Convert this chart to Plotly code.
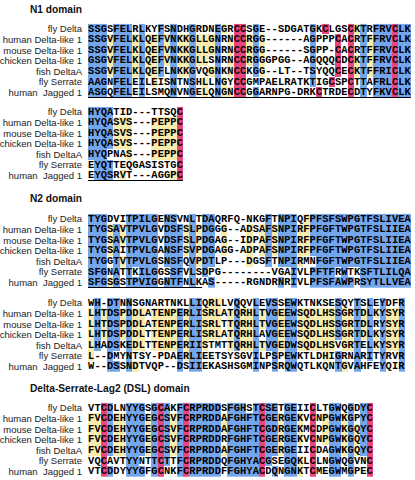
import plotly.graph_objects as go
from collections import Counter

# ---------------- data ----------------
species = ["fly Delta", "human Delta-like 1", "mouse Delta-like 1", "chicken Delta-like 1",
           "fish DeltaA", "fly Serrate", "human\u00a0 Jagged 1"]

n1_part1 = [
    "SSGSFELRLKYFSNDHGRDNEGRCCSGE--SDGATGKCLGSCKTRFRVCLK",
    "SSGVFELKLQEFVNKKGLLGNRNCCRGG------AGPPPCACRTFFRVCLK",
    "SSGVFELKLQEFVNKKGLLGNRNCCRGG------SGPP-CACRTFFRVCLK",
    "GSGVFELKLQEFVNKKGLLSNRNCCRGGGPGG--AGQQQCDCKTFFRVCLK",
    "SSGVFELKLQEFLNKKGVQGNKNCCKGG--LT--TSYQQCECKTFFRICLK",
    "AAGNFELEILEISNTNSHLLNGYCCGMPAELRATKTIGCSPCTTAFRLCLK",
    "ASGQFELEILSMQNVNGELQNGNCCGGARNPG-DRKCTRDECDTYFKVCLK",
]
n1_part2 = [
    "HYQATID---TTSQC",
    "HYQASVS---PEPPC",
    "HYQASVS---PEPPC",
    "HYQASVS---PEPPC",
    "HYQPNAS---PEPPC",
    "EYQTTEQGASISTGC",
    "EYQSRVT---AGGPC",
]
n2_part1 = [
    "TYGDVITPILGENSVNLTDAQRFQ-NKGFTNPIQFPFSFSWPGTFSLIVEA",
    "TYGSAVTPVLGVDSFSLPDGGG--ADSAFSNPIRFPFGFTWPGTFSLIIEA",
    "TYGSAVTPVLGVDSFSLPDGAG--IDPAFSNPIRFPFGFTWPGTFSLIIEA",
    "TYGSAITPVLGANSFSVPDGAGG-ADPAFSNPIRFPFGFTWPGTFSLIIEA",
    "TYGGTVTPVLGSNSFQVPDTLP---DGSFTNPIRMNFGFTWPGTFSLIIEA",
    "SFGNATTKILGGSSFVLSDPG--------VGAIVLPFTFRWTKSFTLILQA",
    "SFGSGSTPVIGGNTFNLKAS-----RGNDRNRIVLPFSFAWPRSYTLLVEA",
]
n2_part2 = [
    "WH-DTNNSGNARTNKLLIQRLLVQQVLEVSSEWKTNKSESQYTSLEYDFR",
    "LHTDSPDDLATENPERLISRLATQRHLTVGEEWSQDLHSSGRTDLKYSYR",
    "LHTDSPDDLATENPERLISRLTTQRHLTVGEEWSQDLHSSGRTDLRYSYR",
    "LHTDSPDDLTTENPERLISRLATQRHLAVGEEWSQDLHSSGRTDLKYSYR",
    "LHADSKEDLTTENPERIISTMTTQRHLTVGEDWSQDLHSVGRTELKYSYR",
    "L--DMYNTSY-PDAERLIEETSYSGVILPSPEWKTLDHIGRNARITYRVR",
    "W--DSSNDTVQP--DSIIEKASHSGMINPSRQWQTLKQNTGVAHFEYQIR",
]
dsl_part = [
    "VTCDLNYYGSGCAKFCRPRDDSFGHSTCSETGEIICLTGWQGDYC",
    "FVCDEHYYGEGCSVFCRPRDDAFGHFTCGERGEKVCNPGWKGPYC",
    "FVCDEHYYGEGCSVFCRPRDDAFGHFTCGDRGEKMCDPGWKGQYC",
    "FVCDEHYYGEGCSVFCRPRDDRFGHFTCGERGEKVCNPGWKGQYC",
    "FVCDEHYYGEGCSVFCRPRDDAFGHFTCGERGEIICDAGWKGQYC",
    "VQCAVTYYNTTCTTFCRPRDDQFGHYACGSEGQKLCLNGWQGVNC",
    "VTCDDYYYGFGCNKFCRPRDDFFGHYACDQNGNKTCMEGWMGPEC",
]

block_titles = ["N1 domain", None, "N2 domain", None, "Delta-Serrate-Lag2 (DSL) domain"]
blocks = [n1_part1, n1_part2, n2_part1, n2_part2, dsl_part]

# underlined stretches: (block index, row index, first column, last column)
underlines = [(0, 6, 0, 50), (1, 6, 0, 14), (2, 6, 0, 17)]

# restriction-site markers: (block index, column, label)
sites = [(2, 50, "Stu"), (4, 14.5, "Nae")]

# ---------------- style ----------------
W, H = 415, 480
CW = 6.33          # px per residue column
RH = 10.6          # px per row
X0 = 88            # left edge of sequence area (px)
first_row_px = [29, 112, 219, 303, 408]
title_px = [9, None, 198, None, 388]

BLUE = "#74a6ee"
YELLOW = "#f7ecae"
PINK = "#e9457f"

groups = ["AGST", "DENQ", "KRH", "ILVM", "FYW", "C", "P"]


def grp(a):
    for g in groups:
        if a in g:
            return g
    return a


def shade(seqs):
    nrow, ncol = len(seqs), len(seqs[0])
    z = [[0] * ncol for _ in range(nrow)]
    for c in range(ncol):
        col = [s[c] for s in seqs]
        res = [a for a in col if a != "-"]
        if not res:
            continue
        cnt = Counter(res)
        cons, nid = cnt.most_common(1)[0]
        g = grp(cons)
        ngrp = sum(1 for a in res if a in g)
        for r, a in enumerate(col):
            if a == "-":
                continue
            if a == "C":
                z[r][c] = 3
            elif a == cons and nid >= 6:
                z[r][c] = 2
            elif a in g and ngrp >= 6 and nid >= 3:
                z[r][c] = 2
            elif a == cons and nid >= 5 and col[0] == cons:
                z[r][c] = 2
            elif a == cons and nid >= 3:
                z[r][c] = 1
    return z


fig = go.Figure()
colorscale = [[0, "rgba(255,255,255,0)"], [0.2499, "rgba(255,255,255,0)"],
              [0.25, YELLOW], [0.4999, YELLOW],
              [0.5, BLUE], [0.7499, BLUE],
              [0.75, PINK], [1, PINK]]

ncols_axis = (W - X0) / CW
layout_axes = {}
for b, seqs in enumerate(blocks):
    yname = "y" if b == 0 else f"y{b+1}"
    ykey = "yaxis" if b == 0 else f"yaxis{b+1}"
    nrow, ncol = len(seqs), len(seqs[0])
    z = shade(seqs)
    fig.add_trace(go.Heatmap(z=z, x=list(range(ncol)), y=list(range(nrow)),
                             zmin=-0.5, zmax=3.5, colorscale=colorscale, showscale=False,
                             xaxis="x", yaxis=yname, hoverinfo="skip"))
    xs, ys, ts = [], [], []
    for r, s in enumerate(seqs):
        for c, a in enumerate(s):
            xs.append(c); ys.append(r); ts.append(a)
    fig.add_trace(go.Scatter(x=xs, y=ys, text=ts, mode="text", xaxis="x", yaxis=yname,
                             textposition="middle center", cliponaxis=False,
                             textfont=dict(family="Liberation Mono, Courier New, monospace",
                                           size=10.4, color="#000", weight="bold"),
                             hoverinfo="skip"))
    top = first_row_px[b] - RH / 2
    bot = top + nrow * RH
    layout_axes[ykey] = dict(domain=[1 - bot / H, 1 - top / H], range=[nrow - 0.5, -0.5],
                             anchor="x", tickmode="array", tickvals=list(range(nrow)),
                             ticktext=species, showgrid=False, zeroline=False, showline=False,
                             ticks="", ticklabelstandoff=5, automargin=False,
                             tickfont=dict(family="Liberation Sans, Arial", size=9.5, color="#222"))
    if block_titles[b]:
        fig.add_annotation(x=29 / W, y=1 - title_px[b] / H, xref="paper", yref="paper",
                           text=f"<b>{block_titles[b]}</b>", showarrow=False,
                           xanchor="left", yanchor="middle", borderpad=0,
                           font=dict(family="Liberation Sans, Arial", size=10.2, color="#111"))

for b, r, c0, c1 in underlines:
    yname = "y" if b == 0 else f"y{b+1}"
    fig.add_trace(go.Scatter(x=[c0 - 0.5, c1 + 0.5], y=[r + 0.47, r + 0.47], mode="lines",
                             line=dict(color="#000", width=1.2), xaxis="x", yaxis=yname,
                             cliponaxis=False, hoverinfo="skip"))

for b, c, lab in sites:
    yname = "y" if b == 0 else f"y{b+1}"
    if lab == "Stu":
        fig.add_trace(go.Scatter(x=[c], y=[-0.95], mode="markers", xaxis="x", yaxis=yname,
                                 marker=dict(symbol="triangle-down", size=7, color="#000"),
                                 cliponaxis=False, hoverinfo="skip"))
        fig.add_annotation(x=c - 0.3, y=-2.25, xref="x", yref=yname, text=lab, showarrow=False,
                           xanchor="left", yanchor="middle",
                           font=dict(family="Liberation Sans, Arial", size=11, color="#000"))
    else:
        fig.add_trace(go.Scatter(x=[c], y=[-0.88], mode="markers", xaxis="x", yaxis=yname,
                                 marker=dict(symbol="triangle-down", size=7, color="#000"),
                                 cliponaxis=False, hoverinfo="skip"))
        fig.add_annotation(x=c + 0.45, y=-1.05, xref="x", yref=yname, text=lab, showarrow=False,
                           xanchor="left", yanchor="middle",
                           font=dict(family="Liberation Sans, Arial", size=11, color="#000"))

fig.update_layout(
    width=W, height=H, margin=dict(l=0, r=0, t=0, b=0, autoexpand=False),
    paper_bgcolor="white", plot_bgcolor="white", showlegend=False,
    xaxis=dict(domain=[X0 / W, 1], range=[-0.5, -0.5 + ncols_axis], visible=False,
               automargin=False),
    **layout_axes,
)
fig.write_html("out.html", config={"displayModeBar": False},
               post_script="document.body.style.margin='0';document.body.style.padding='0';")
